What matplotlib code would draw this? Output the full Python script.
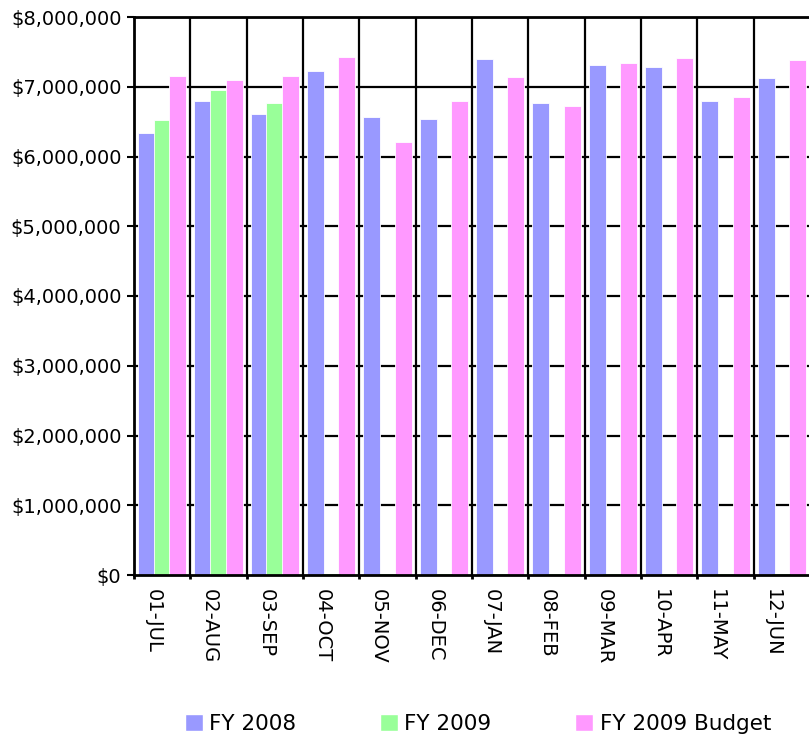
import matplotlib
matplotlib.use("Agg")
import matplotlib.pyplot as plt
import matplotlib.transforms as mtransforms
import numpy as np
from matplotlib.ticker import FuncFormatter, MultipleLocator
from matplotlib.patches import Patch

plt.rcParams['font.family'] = ['DejaVu Sans']

months = ["01-JUL", "02-AUG", "03-SEP", "04-OCT", "05-NOV", "06-DEC",
          "07-JAN", "08-FEB", "09-MAR", "10-APR", "11-MAY", "12-JUN"]
fy2008 = [6340000, 6800000, 6610000, 7230000, 6570000, 6540000,
          7400000, 6770000, 7310000, 7280000, 6800000, 7130000]
fy2009 = [6520000, 6950000, 6760000, 0, 0, 0, 0, 0, 0, 0, 0, 0]
fy2009_budget = [7160000, 7100000, 7160000, 7430000, 6210000, 6800000,
                 7140000, 6730000, 7340000, 7410000, 6860000, 7380000]
series_names = ["FY 2008", "FY 2009", "FY 2009 Budget"]
colors = ["#9999FF", "#99FF99", "#FF99FF"]

fig = plt.figure(figsize=(8.09, 7.40), dpi=100)
ax = fig.add_axes([134/809, 1-575/740, 676/809, (575-17)/740])

x = np.arange(len(months))
w = 0.30
off = 0.28
for i, (vals, c) in enumerate(zip([fy2008, fy2009, fy2009_budget], colors)):
    ax.bar(x + (i-1)*off, vals, width=w, color=c, edgecolor='white',
           linewidth=0.6, zorder=3 + i)
# zero-value marks for FY2009
for xi, v in zip(x, fy2009):
    if v == 0:
        ax.plot([xi - w/2, xi + w/2], [0, 0], color="#66CC66", lw=1.2, zorder=6)

ax.set_xlim(-0.5, len(months) - 0.5)
ax.set_ylim(0, 8000000)
ax.yaxis.set_major_locator(MultipleLocator(1000000))
ax.yaxis.set_major_formatter(FuncFormatter(lambda v, p: "${:,.0f}".format(v)))
ax.set_xticks(x)
ax.set_xticks(np.arange(-0.5, len(months)), minor=True)
ax.tick_params(axis='x', which='major', length=0, pad=10)
ax.tick_params(axis='x', which='minor', length=3, width=2, direction='out', color='black')
ax.tick_params(axis='y', labelsize=14, length=5, width=1.5, pad=4)
ax.set_xticklabels(months, rotation=270, fontsize=14, va='top', ha='center')
shift = mtransforms.ScaledTranslation(-9/100, 0, fig.dpi_scale_trans)
for lbl in ax.get_xticklabels():
    lbl.set_transform(lbl.get_transform() + shift)

ax.grid(False)
for yv in np.arange(1000000, 8000001, 1000000):
    ax.axhline(yv, color='black', lw=1.6, zorder=2)
for xv in np.arange(0.5, len(months) - 0.5):
    ax.axvline(xv, color='black', lw=1.6, zorder=2)
for s in ['top', 'left', 'bottom']:
    ax.spines[s].set_linewidth(2)
    ax.spines[s].set_zorder(10)
ax.spines['right'].set_visible(False)

handles = [Patch(facecolor=c, edgecolor='white', label=n) for c, n in zip(colors, series_names)]
fig.legend(handles=handles, loc='center left', bbox_to_anchor=(185/809, 1-724/740),
           ncol=3, frameon=False, fontsize=15.5, handlelength=0.84, handleheight=0.84,
           handletextpad=0.28, columnspacing=3.9, borderpad=0, borderaxespad=0)

fig.savefig("out.png", dpi=100)
